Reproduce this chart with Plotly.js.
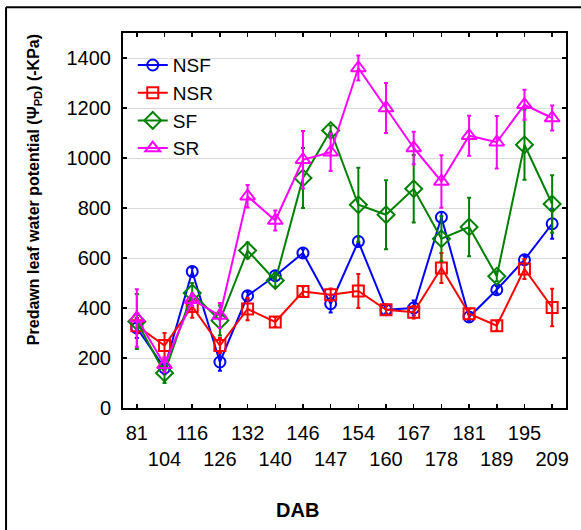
<!DOCTYPE html>
<html>
<head>
<meta charset="utf-8">
<script src="https://cdn.plot.ly/plotly-3.0.1.min.js"></script>
<style>html,body{margin:0;padding:0;background:#fff;}#chart{width:581px;height:530px;}</style>
</head>
<body>
<div id="chart"></div>
<script>
// Days after bloom (categories)
var days = ['81','104','116','126','132','140','146','147','154','160','167','178','181','189','195','209'];

var NSF     = [320, 160, 546, 184, 449, 529, 620, 417, 666, 393, 400, 763, 364, 473, 593, 737];
var NSF_err = [40, 25, 15, 35, 15, 15, 15, 35, 20, 15, 30, 20, 15, 15, 15, 60];

var NSR     = [329, 250, 406, 250, 396, 344, 466, 453, 468, 393, 383, 560, 377, 329, 556, 402];
var NSR_err = [30, 50, 45, 30, 45, 20, 20, 25, 68, 20, 25, 60, 20, 20, 40, 75];

var SF      = [346, 140, 460, 350, 630, 510, 920, 1110, 813, 773, 877, 677, 724, 527, 1053, 816];
var SF_err  = [110, 40, 40, 60, 32, 25, 120, 20, 148, 138, 135, 90, 117, 20, 140, 115];

var SR      = [360, 173, 433, 370, 847, 750, 993, 1023, 1360, 1200, 1040, 906, 1089, 1063, 1213, 1160];
var SR_err  = [115, 30, 25, 50, 45, 40, 115, 75, 50, 100, 65, 105, 80, 105, 60, 50];

var yTicks = [0, 200, 400, 600, 800, 1000, 1200, 1400];

// alternate tick labels on two rows
var tickText = days.map(function(d, i){ return i % 2 === 0 ? d : '<br>' + d; });

function series(name, y, err, color, symbol, size){
  return {
    type: 'scatter', mode: 'lines+markers', name: name,
    x: days, y: y,
    line: {color: color, width: 2},
    marker: {symbol: symbol, size: size, color: color, line: {color: color, width: 2}},
    error_y: {type: 'data', array: err, visible: true, color: color, thickness: 2, width: 2}
  };
}

var data = [
  series('NSF', NSF, NSF_err, '#0000ff', 'circle-open', 11),
  series('NSR', NSR, NSR_err, '#ff0000', 'square-open', 11),
  series('SF',  SF,  SF_err,  '#008000', 'diamond-open', 13),
  series('SR',  SR,  SR_err,  '#ff00ff', 'triangle-up-open', 13)
];

var layout = {
  width: 581, height: 530,
  margin: {l: 123, r: 15, t: 33, b: 122},
  paper_bgcolor: '#ffffff', plot_bgcolor: '#ffffff',
  font: {family: 'Arial, "Liberation Sans", sans-serif', color: '#000'},
  showlegend: true,
  legend: {x: 0.022, y: 0.965, xanchor: 'left', yanchor: 'top',
           font: {size: 19, color: '#000'}, bgcolor: 'rgba(0,0,0,0)', tracegroupgap: 0},
  xaxis: {
    type: 'category', range: [-0.5, 15.5],
    tickmode: 'array', tickvals: days, ticktext: tickText, tickangle: 0,
    ticks: 'inside', ticklen: 4, tickwidth: 1.5, tickcolor: '#000',
    showline: true, linecolor: '#000', linewidth: 2, mirror: 'ticks',
    showgrid: false, zeroline: false,
    tickfont: {size: 20, color: '#000'}, ticklabelstandoff: 6
  },
  yaxis: {
    range: [0, 1500], tickmode: 'array', tickvals: yTicks,
    ticks: 'inside', ticklen: 4, tickwidth: 1.5, tickcolor: '#000',
    showline: true, linecolor: '#000', linewidth: 2, mirror: 'ticks',
    showgrid: true, gridcolor: '#d9d9d9', gridwidth: 1, zeroline: false,
    tickfont: {size: 20, color: '#000'}, ticklabelstandoff: 6
  },
  annotations: [
    {text: '<b>Predawn leaf water potential (Ψ<sub>PD</sub>) (-KPa)</b>', textangle: -90,
     xref: 'paper', yref: 'paper', x: -0.2, y: 0.582, xanchor: 'center', yanchor: 'middle',
     showarrow: false, font: {size: 16, color: '#000'}},
    {text: '<b>DAB</b>', xref: 'paper', yref: 'paper', x: 0.393, y: -0.272,
     xanchor: 'center', yanchor: 'middle', showarrow: false, font: {size: 20, color: '#000'}}
  ],
  shapes: [
    {type: 'line', xref: 'paper', yref: 'paper', x0: -0.264, x1: -0.264, y0: 1.069, y1: -0.33,
     line: {color: '#000', width: 2}},
    {type: 'line', xref: 'paper', yref: 'paper', x0: -0.264, x1: 1.04, y0: 1.069, y1: 1.069,
     line: {color: '#000', width: 2}}
  ]
};

Plotly.newPlot('chart', data, layout, {displayModeBar: false, staticPlot: true});
</script>
</body>
</html>
